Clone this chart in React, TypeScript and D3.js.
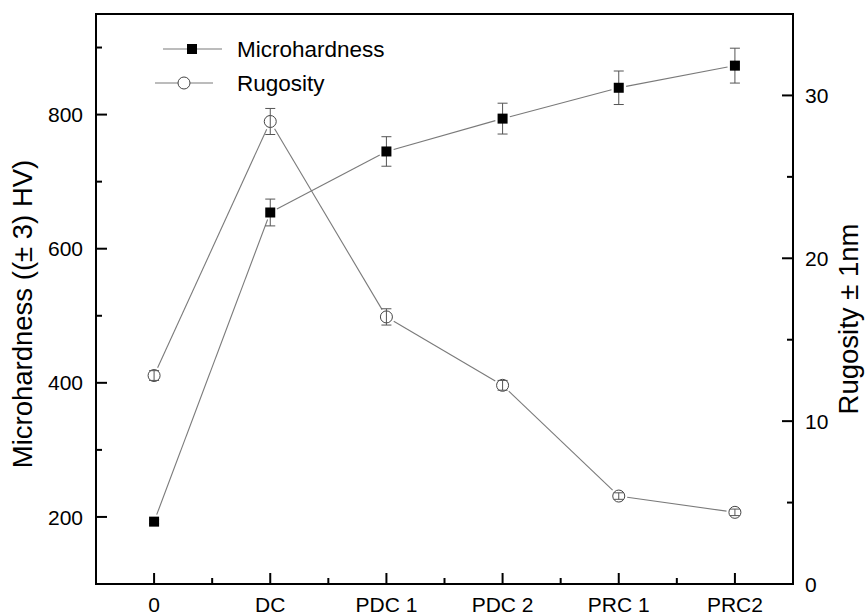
import React from 'react';
import * as d3 from 'd3';

// Data
const categories = ['0', 'DC', 'PDC 1', 'PDC 2', 'PRC 1', 'PRC2'];
const hardness = [193, 654, 745, 794, 840, 873];
const hardnessErr = [3, 20, 22, 23, 25, 26];
const rugosity = [12.8, 28.4, 16.4, 12.2, 5.4, 4.4];
const rugosityErr = [0.3, 0.8, 0.5, 0.3, 0.2, 0.2];

const leftTicks = [200, 400, 600, 800];
const leftMinor = [300, 500, 700, 900];
const rightTicks = [0, 10, 20, 30];
const rightMinor = [5, 15, 25];

const W = 867, H = 615;
const margin = { top: 14, right: 74, bottom: 31, left: 96 };
const FONT = '"Liberation Sans", Arial, sans-serif';
const LINE = '#7a7a7a';
const ERR = '#555';

// shortened segments so lines stop just before the markers
function gapSegments(pts: [number, number][], gap: number) {
  const segs: [number, number, number, number][] = [];
  for (let i = 0; i < pts.length - 1; i++) {
    const [x1, y1] = pts[i];
    const [x2, y2] = pts[i + 1];
    const len = Math.hypot(x2 - x1, y2 - y1);
    if (len <= gap * 2) continue;
    const ux = (x2 - x1) / len, uy = (y2 - y1) / len;
    segs.push([x1 + ux * gap, y1 + uy * gap, x2 - ux * gap, y2 - uy * gap]);
  }
  return segs;
}

export default function App() {
  const x0 = margin.left, x1 = W - margin.right;
  const y0 = margin.top, y1 = H - margin.bottom;

  const x = d3.scaleLinear().domain([-0.5, categories.length - 0.5]).range([x0, x1]);
  const yL = d3.scaleLinear().domain([100, 950]).range([y1, y0]);
  const yR = d3.scaleLinear().domain([0, 35]).range([y1, y0]);

  const hPts = hardness.map((v, i) => [x(i), yL(v)] as [number, number]);
  const rPts = rugosity.map((v, i) => [x(i), yR(v)] as [number, number]);

  const capW = 5;

  return (
    <svg width={W} height={H} style={{ position: 'absolute', left: 0, top: 0, background: '#fff' }}
      fontFamily={FONT}>
      {/* lines */}
      {gapSegments(rPts, 8.5).map((s, i) => (
        <line key={'rl' + i} x1={s[0]} y1={s[1]} x2={s[2]} y2={s[3]} stroke={LINE} strokeWidth={1.1} />
      ))}
      {gapSegments(hPts, 7.5).map((s, i) => (
        <line key={'hl' + i} x1={s[0]} y1={s[1]} x2={s[2]} y2={s[3]} stroke={LINE} strokeWidth={1.1} />
      ))}

      {/* rugosity markers + error bars */}
      {rugosity.map((v, i) => (
        <g key={'r' + i}>
          <circle cx={x(i)} cy={yR(v)} r={6} fill="#fff" stroke="#444" strokeWidth={1} />
          <line x1={x(i)} x2={x(i)} y1={yR(v - rugosityErr[i])} y2={yR(v + rugosityErr[i])} stroke={ERR} strokeWidth={1} />
          <line x1={x(i) - capW} x2={x(i) + capW} y1={yR(v - rugosityErr[i])} y2={yR(v - rugosityErr[i])} stroke={ERR} strokeWidth={1} />
          <line x1={x(i) - capW} x2={x(i) + capW} y1={yR(v + rugosityErr[i])} y2={yR(v + rugosityErr[i])} stroke={ERR} strokeWidth={1} />
        </g>
      ))}

      {/* microhardness markers + error bars */}
      {hardness.map((v, i) => (
        <g key={'h' + i}>
          <line x1={x(i)} x2={x(i)} y1={yL(v - hardnessErr[i])} y2={yL(v + hardnessErr[i])} stroke={ERR} strokeWidth={1} />
          <line x1={x(i) - capW} x2={x(i) + capW} y1={yL(v - hardnessErr[i])} y2={yL(v - hardnessErr[i])} stroke={ERR} strokeWidth={1} />
          <line x1={x(i) - capW} x2={x(i) + capW} y1={yL(v + hardnessErr[i])} y2={yL(v + hardnessErr[i])} stroke={ERR} strokeWidth={1} />
          <rect x={x(i) - 5} y={yL(v) - 5} width={10} height={10} fill="#000" />
        </g>
      ))}

      {/* frame */}
      <rect x={x0} y={y0} width={x1 - x0} height={y1 - y0} fill="none" stroke="#000" strokeWidth={2} />

      {/* left axis */}
      {leftTicks.map(t => (
        <g key={'lt' + t}>
          <line x1={x0} x2={x0 + 11} y1={yL(t)} y2={yL(t)} stroke="#000" strokeWidth={2} />
          <text x={x0 - 13} y={yL(t)} dy="0.36em" textAnchor="end" fontSize={21}>{t}</text>
        </g>
      ))}
      {leftMinor.map(t => (
        <line key={'lm' + t} x1={x0} x2={x0 + 6} y1={yL(t)} y2={yL(t)} stroke="#000" strokeWidth={2} />
      ))}

      {/* right axis */}
      {rightTicks.map(t => (
        <g key={'rt' + t}>
          <line x1={x1} x2={x1 - 11} y1={yR(t)} y2={yR(t)} stroke="#000" strokeWidth={2} />
          <text x={x1 + 12} y={yR(t)} dy="0.36em" textAnchor="start" fontSize={21}>{t}</text>
        </g>
      ))}
      {rightMinor.map(t => (
        <line key={'rm' + t} x1={x1} x2={x1 - 6} y1={yR(t)} y2={yR(t)} stroke="#000" strokeWidth={2} />
      ))}

      {/* bottom axis */}
      {categories.map((c, i) => (
        <g key={'xt' + i}>
          <line x1={x(i)} x2={x(i)} y1={y1} y2={y1 - 11} stroke="#000" strokeWidth={2} />
          <text x={x(i)} y={612} textAnchor="middle" fontSize={21}>{c}</text>
        </g>
      ))}
      {categories.slice(1).map((_, i) => (
        <line key={'xm' + i} x1={x(i + 0.5)} x2={x(i + 0.5)} y1={y1} y2={y1 - 6} stroke="#000" strokeWidth={2} />
      ))}

      {/* axis titles */}
      <text transform={`translate(32,314) rotate(-90)`} textAnchor="middle" fontSize={27.5}>Microhardness ((± 3) HV)</text>
      <text transform={`translate(858,319) rotate(-90)`} textAnchor="middle" fontSize={27.5}>Rugosity ± 1nm</text>

      {/* legend */}
      <line x1={163} x2={222} y1={49} y2={49} stroke={LINE} strokeWidth={1.1} />
      <rect x={187} y={44} width={10} height={10} fill="#000" />
      <text x={237} y={49} dy="0.36em" fontSize={22.5}>Microhardness</text>
      <line x1={155} x2={213} y1={83} y2={83} stroke={LINE} strokeWidth={1.1} />
      <circle cx={184} cy={83} r={6} fill="#fff" stroke="#444" strokeWidth={1} />
      <text x={237} y={83} dy="0.36em" fontSize={22.5}>Rugosity</text>
    </svg>
  );
}
